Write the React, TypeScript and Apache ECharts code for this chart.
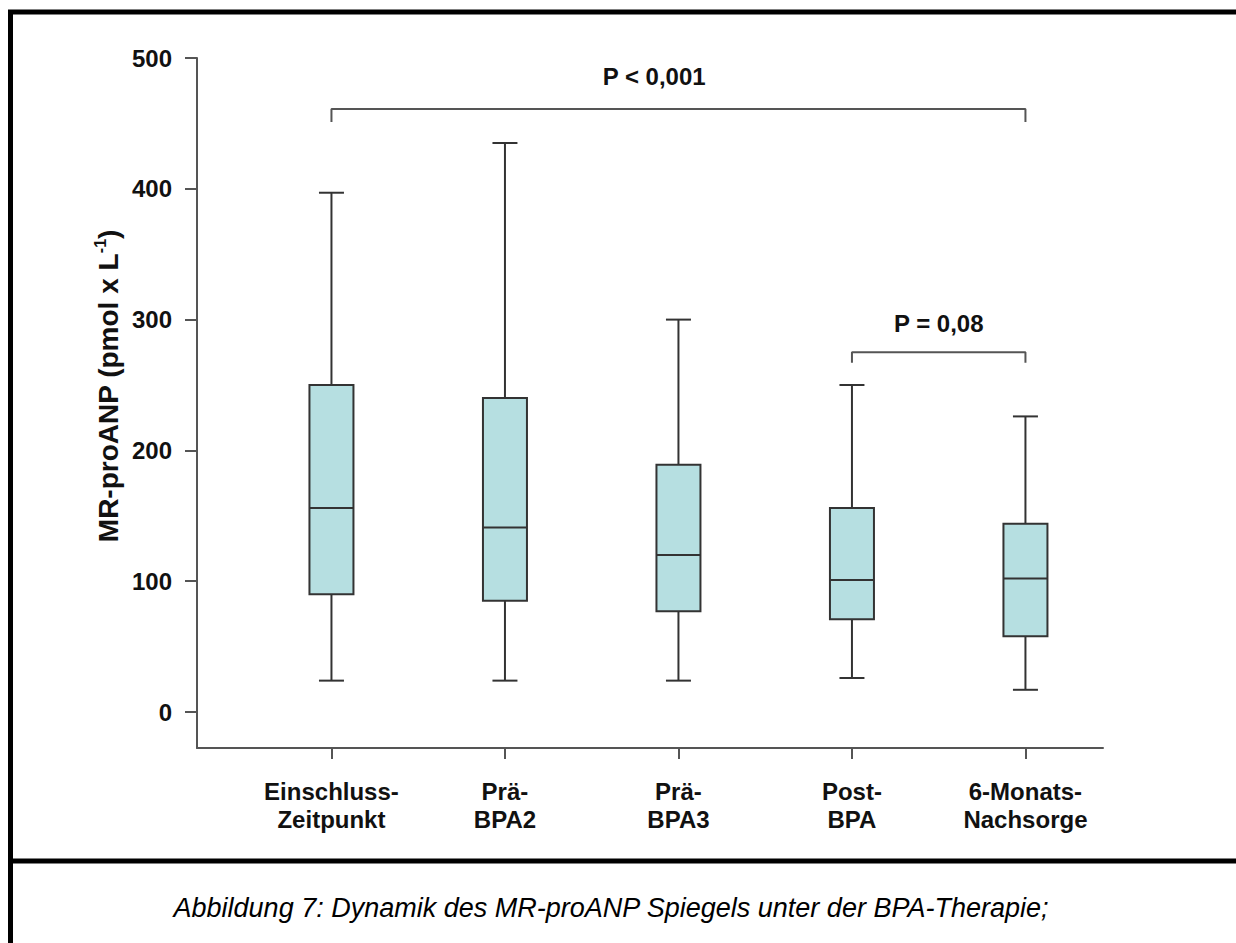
import React, { useEffect, useRef } from "react";
import * as echarts from "echarts";

// Time points (x positions 1..5)
const categories = [
  "Einschluss-\nZeitpunkt",
  "Prä-\nBPA2",
  "Prä-\nBPA3",
  "Post-\nBPA",
  "6-Monats-\nNachsorge",
];

// Box plot statistics, MR-proANP in pmol/L
const whiskerLow = [24, 24, 24, 26, 17];
const quartile1 = [90, 85, 77, 71, 58];
const medians = [156, 141, 120, 101, 102];
const quartile3 = [250, 240, 189, 156, 144];
const whiskerHigh = [397, 435, 300, 250, 226];

// Y tick values
const yTicks = [0, 100, 200, 300, 400, 500];

// Significance brackets: [xFrom, xTo, yTop, yLegEnd]
const bracketAll = [1, 5, 461, 451];
const bracketLate = [4, 5, 275, 267];
// Significance labels: [x, y, text]
const pLabels: [number, number, string][] = [
  [2.86, 486, "P < 0,001"],
  [4.5, 297, "P = 0,08"],
];

const caption =
  "Abbildung 7: Dynamik des MR-proANP Spiegels unter der BPA-Therapie;";

const FONT = "'Liberation Sans', Arial, Helvetica, sans-serif";
const AXIS_COLOR = "#555555";
const TEXT_COLOR = "#111111";

function bracketPoints(b: number[]) {
  const [x1, x2, top, leg] = b;
  return [
    [x1, leg],
    [x1, top],
    [x2, top],
    [x2, leg],
  ];
}

export default function App() {
  const ref = useRef<HTMLDivElement>(null);

  useEffect(() => {
    if (!ref.current) return;
    const chart = echarts.init(ref.current, undefined, { renderer: "svg" });

    const boxData = categories.map((_, i) => [
      i + 1,
      whiskerLow[i],
      quartile1[i],
      medians[i],
      quartile3[i],
      whiskerHigh[i],
    ]);

    const renderBox = (params: any, api: any) => {
      const x = api.value(0);
      const lo = api.coord([x, api.value(1)]);
      const q1 = api.coord([x, api.value(2)]);
      const md = api.coord([x, api.value(3)]);
      const q3 = api.coord([x, api.value(4)]);
      const hi = api.coord([x, api.value(5)]);
      const cx = lo[0];
      const half = 22;
      const cap = 12.5;
      const line = { stroke: "#333333", lineWidth: 2 };
      return {
        type: "group",
        children: [
          { type: "line", shape: { x1: cx, y1: hi[1], x2: cx, y2: q3[1] }, style: line },
          { type: "line", shape: { x1: cx - cap, y1: hi[1], x2: cx + cap, y2: hi[1] }, style: line },
          { type: "line", shape: { x1: cx, y1: q1[1], x2: cx, y2: lo[1] }, style: line },
          { type: "line", shape: { x1: cx - cap, y1: lo[1], x2: cx + cap, y2: lo[1] }, style: line },
          {
            type: "rect",
            shape: { x: cx - half, y: q3[1], width: half * 2, height: q1[1] - q3[1] },
            style: { fill: "#b6dfe1", stroke: "#333333", lineWidth: 2 },
          },
          { type: "line", shape: { x1: cx - half, y1: md[1], x2: cx + half, y2: md[1] }, style: line },
        ],
      };
    };

    const renderPLabel = (params: any, api: any) => {
      const pt = api.coord([api.value(0), api.value(1)]);
      return {
        type: "text",
        x: pt[0],
        y: pt[1],
        style: {
          text: pLabels[params.dataIndex][2],
          fontSize: 24,
          fontWeight: "bold",
          fontFamily: FONT,
          fill: TEXT_COLOR,
          align: "center",
          verticalAlign: "middle",
        },
      };
    };

    const tickNums = [1, 2, 3, 4, 5];

    chart.setOption({
      animation: false,
      backgroundColor: "#ffffff",
      textStyle: { fontFamily: FONT },
      grid: { left: 197, right: 133, top: 58, bottom: 195 },
      xAxis: {
        type: "value",
        min: 0.225,
        max: 5.447,
        splitLine: { show: false },
        axisLine: { show: true, onZero: false, lineStyle: { color: AXIS_COLOR, width: 2 } },
        axisTick: {
          show: true,
          length: 11,
          customValues: tickNums,
          lineStyle: { color: AXIS_COLOR, width: 2 },
        },
        axisLabel: {
          show: true,
          customValues: tickNums,
          margin: 29,
          fontSize: 24,
          fontWeight: "bold",
          lineHeight: 28,
          color: TEXT_COLOR,
          fontFamily: FONT,
          align: "center",
          formatter: (v: number) => categories[Math.round(v) - 1] ?? "",
        },
      },
      yAxis: {
        type: "value",
        min: -27.5,
        max: 500,
        splitLine: { show: false },
        axisLine: { show: true, lineStyle: { color: AXIS_COLOR, width: 2 } },
        axisTick: {
          show: true,
          length: 12,
          customValues: yTicks,
          lineStyle: { color: AXIS_COLOR, width: 2 },
        },
        axisLabel: {
          show: true,
          customValues: yTicks,
          margin: 25,
          fontSize: 24,
          fontWeight: "bold",
          color: TEXT_COLOR,
          fontFamily: FONT,
        },
      },
      series: [
        {
          type: "custom",
          name: "MR-proANP",
          renderItem: renderBox,
          data: boxData,
          encode: { x: 0, y: [1, 2, 3, 4, 5] },
          z: 3,
        },
        {
          type: "line",
          data: bracketPoints(bracketAll),
          symbol: "none",
          lineStyle: { color: AXIS_COLOR, width: 2 },
          z: 2,
        },
        {
          type: "line",
          data: bracketPoints(bracketLate),
          symbol: "none",
          lineStyle: { color: AXIS_COLOR, width: 2 },
          z: 2,
        },
        {
          type: "custom",
          renderItem: renderPLabel,
          data: pLabels.map((p) => [p[0], p[1]]),
          encode: { x: 0, y: 1 },
          z: 4,
        },
      ],
      graphic: [
        { type: "line", shape: { x1: 8, y1: 12, x2: 1236, y2: 12 }, style: { stroke: "#000", lineWidth: 5 } },
        { type: "line", shape: { x1: 10.5, y1: 10, x2: 10.5, y2: 943 }, style: { stroke: "#000", lineWidth: 5 } },
        { type: "line", shape: { x1: 8, y1: 861, x2: 1236, y2: 861 }, style: { stroke: "#000", lineWidth: 5 } },
        {
          // y-axis title, rotated to read bottom-to-top
          type: "text",
          x: 108,
          y: 386,
          rotation: Math.PI / 2,
          style: {
            text: "{a|MR-proANP (pmol x L}{s|-1}{a|)}",
            align: "center",
            verticalAlign: "middle",
            fontFamily: FONT,
            rich: {
              a: { fontSize: 28, fontWeight: "bold", fill: TEXT_COLOR, fontFamily: FONT, lineHeight: 32 },
              s: { fontSize: 16, fontWeight: "bold", fill: TEXT_COLOR, fontFamily: FONT, verticalAlign: "top", lineHeight: 32 },
            },
          },
        },
        {
          type: "text",
          x: 611,
          y: 908,
          style: {
            text: caption,
            fontSize: 27,
            fontStyle: "italic",
            fontFamily: FONT,
            fill: "#000",
            align: "center",
            verticalAlign: "middle",
          },
        },
      ],
    });

    return () => chart.dispose();
  }, []);

  return (
    <div
      ref={ref}
      style={{ position: "fixed", left: 0, top: 0, width: 1236, height: 943, background: "#fff" }}
    />
  );
}
